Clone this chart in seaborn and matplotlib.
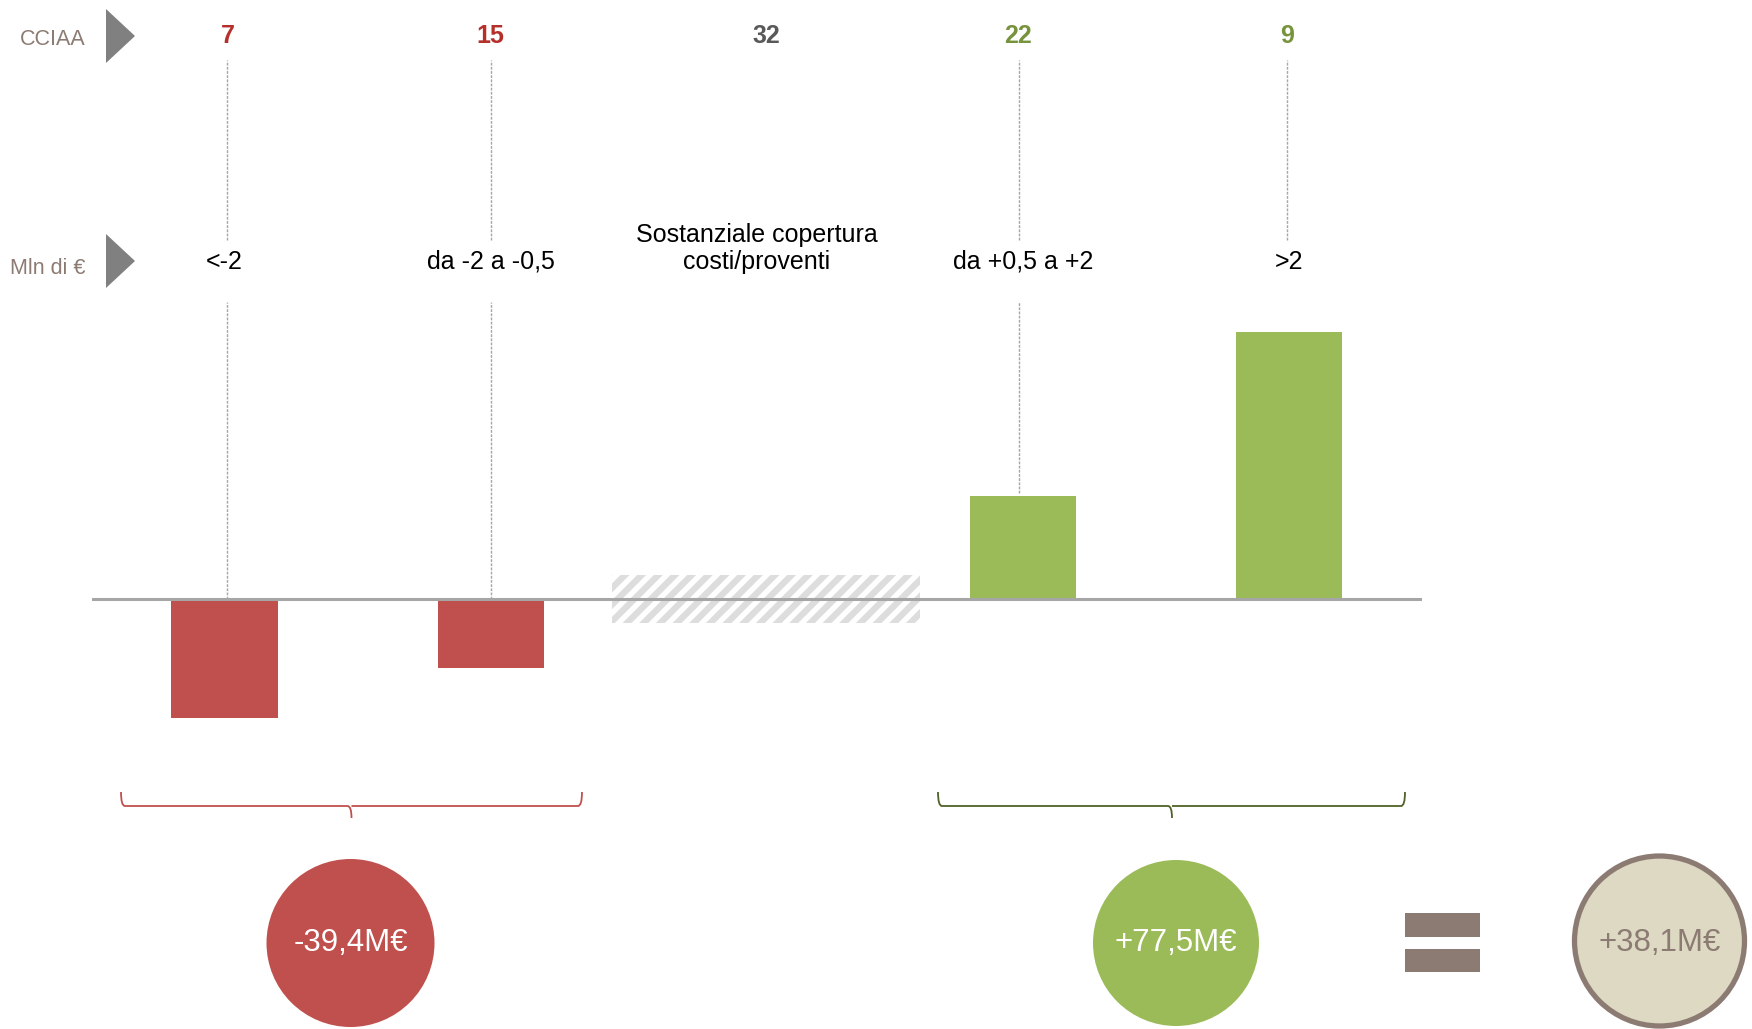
import matplotlib
matplotlib.use("Agg")
import matplotlib.pyplot as plt
import seaborn as sns
import pandas as pd
from matplotlib.patches import Polygon, Circle, Rectangle, PathPatch
from matplotlib.path import Path

# ---------------- data ----------------
categories = ["<-2", "da -2 a -0,5", "Sostanziale copertura\ncosti/proventi",
              "da +0,5 a +2", ">2"]
cciaa_counts = [7, 15, 32, 22, 9]
balance_mln = [-25.0, -14.4, 0.0, 21.5, 56.0]          # Mln di €
neutral_band = 5.0                                      # +/- band of "copertura"
group_labels = ["-39,4M€", "+77,5M€", "+38,1M€"]
row_labels = ["CCIAA", "Mln di €"]

# ---------------- style ----------------
RED = "#c0504d"
GREEN = "#9bbb59"
RED_TXT = "#b52f2b"
GREEN_TXT = "#77933c"
GREY_TXT = "#595959"
BROWN = "#8c7b73"
BEIGE = "#ddd9c3"
bar_colors = [RED, RED, "#ffffff", GREEN, GREEN]
count_colors = [RED_TXT, RED_TXT, GREY_TXT, GREEN_TXT, GREEN_TXT]
guide_shift = [0.012, 0.0, 0.035, -0.02, -0.008]   # small horizontal nudges

sns.set_theme(style="white")
plt.rcParams["font.family"] = ["Liberation Sans", "DejaVu Sans"]
plt.rcParams["hatch.linewidth"] = 4.6

W, H = 1752, 1029
fig = plt.figure(figsize=(W / 100, H / 100), dpi=100)
fig.patch.set_facecolor("white")

# main bar axes spans full height; baseline at pixel row 599
px = 0.2097  # Mln € per pixel
ylo, yhi = -(H - 599) * px, 599 * px
ax = fig.add_axes([91.6 / W, 0, (1422 - 91.6) / W, 1])
df = pd.DataFrame({"cat": categories, "val": balance_mln})
sns.barplot(data=df, x="cat", y="val", hue="cat", palette=bar_colors,
            width=0.4, saturation=1, legend=False, ax=ax, linewidth=0,
            zorder=3)
ax.set_xlim(-0.5, 4.5)
ax.set_ylim(ylo, yhi)
ax.axis("off")

# hatched neutral band for middle category
mid_off = guide_shift[2]
ax.bar(2 + mid_off, 2 * neutral_band, bottom=-neutral_band, width=1.16,
       facecolor="white", edgecolor="#dddddd", linewidth=0, hatch="//",
       zorder=2)
ax.axhline(0, color="#a6a6a6", lw=2.2, zorder=4)


def frac(ypix):
    return 1 - ypix / H


def to_data(ypix):
    return ylo + frac(ypix) * (yhi - ylo)


# counts, labels, guide lines
for i, (lab, n, v) in enumerate(zip(categories, cciaa_counts, balance_mln)):
    xo = guide_shift[i]
    ax.text(i + xo, to_data(43), str(n), ha="center", va="baseline",
            fontsize=18, fontweight="bold", color=count_colors[i])
    ax.text(i, to_data(269), lab, ha="center", va="baseline", fontsize=18,
            color="black", linespacing=1.15)
    if i == 2:
        continue
    ax.vlines(i + xo * 0.8, to_data(240), to_data(60), colors="#a6a6a6", lw=1,
              linestyles=(0, (2, 1)), zorder=1)
    top = max(v, 0) + (0.8 if v > 0 else 0)
    if to_data(302) - top > 15:
        ax.vlines(i + xo * 0.8, top, to_data(302), colors="#a6a6a6", lw=1,
                  linestyles=(0, (2, 1)), zorder=1)

# ---------------- overlay decorations ----------------
ov = fig.add_axes([0, 0, 1, 1], facecolor="none")
ov.set_xlim(0, W)
ov.set_ylim(H, 0)
ov.axis("off")

for (ty, lab, by) in [(36, row_labels[0], 45), (261, row_labels[1], 274)]:
    ov.add_patch(Polygon([[106, ty - 27], [135, ty], [106, ty + 27]],
                         closed=True, color="#808080", lw=0))
    ov.text(86, by, lab, ha="right", va="baseline", fontsize=15.5, color=BROWN)


def bracket(x0, x1, xt, color):
    yt, ym, yb, r = 792, 806, 818, 4
    verts = [(x0, yt), (x0, ym), (x0 + r, ym), (xt - r, ym), (xt, ym),
             (xt, yb), (xt, ym), (xt + r, ym), (x1 - r, ym), (x1, ym),
             (x1, yt)]
    codes = [Path.MOVETO, Path.CURVE3, Path.CURVE3, Path.LINETO,
             Path.CURVE3, Path.CURVE3, Path.MOVETO, Path.CURVE3, Path.LINETO,
             Path.CURVE3, Path.CURVE3]
    ov.add_patch(PathPatch(Path(verts, codes), fill=False, edgecolor=color,
                           lw=1.3))


bracket(121, 582, 351.5, RED)
bracket(938, 1405, 1172, "#4f6228")

ov.add_patch(Circle((350.5, 943), 84, color=RED, lw=0))
ov.add_patch(Circle((1176, 943), 83, color=GREEN, lw=0))
ov.add_patch(Circle((1659.5, 941), 85, facecolor=BEIGE, edgecolor=BROWN,
                    lw=3.8))
ov.add_patch(Rectangle((1405, 913), 75, 24, color=BROWN, lw=0))
ov.add_patch(Rectangle((1405, 949), 75, 23, color=BROWN, lw=0))

for (cx, lab, col) in [(350.5, group_labels[0], "white"),
                       (1176, group_labels[1], "white"),
                       (1659.5, group_labels[2], BROWN)]:
    ov.text(cx, 943, lab, ha="center", va="center", fontsize=22.5, color=col)

fig.savefig("out.png", dpi=100, facecolor="white")
